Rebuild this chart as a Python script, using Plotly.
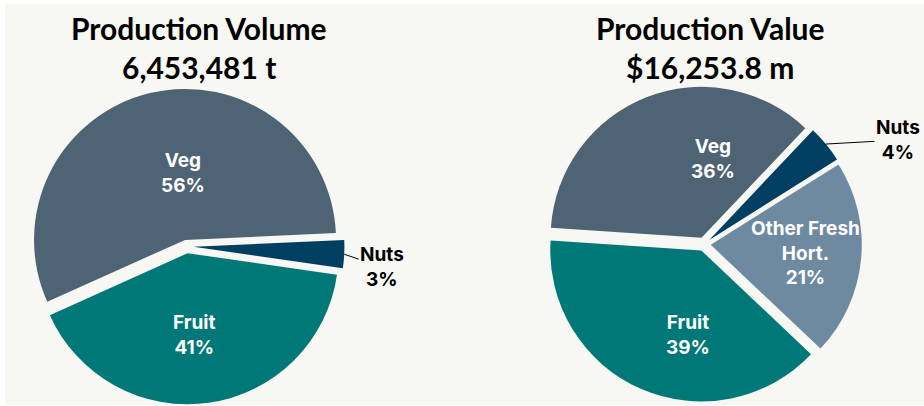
import math
import plotly.graph_objects as go

# ---- data ----
vol_labels = ["Nuts", "Fruit", "Veg"]
vol_text = ["Nuts", "Fruit", "Veg"]
vol_share = [3, 41, 56]
vol_colors = ["#003f62", "#007877", "#4e6475"]

val_labels = ["Veg", "Nuts", "Other Fresh Hort.", "Fruit"]
val_text = ["Veg", "Nuts", "Other Fresh<br>Hort.", "Fruit"]
val_share = [36, 4, 21, 39]
val_colors = ["#4e6475", "#003f62", "#6e8aa0", "#007877"]

vol_title = "Production Volume"
vol_total = "6,453,481 t"
val_title = "Production Value"
val_total = "$16,253.8 m"

# ---- style ----
BG = "#f7f7f3"
LABEL_FONT = "Inter"
TITLE_FONT = "Lato"
PULL = 0.045
W, H = 924, 406

vol_dom = dict(x=[0.03117, 0.37273], y=[0.0042, 0.7815])
val_dom = dict(x=[0.59113, 0.93268], y=[0.00985, 0.7872])
vol_rot = 87.4
val_rot = -86.2

# label placement: (angle shift from slice mid-angle in deg, radius fraction)
vol_lab_style = [None, (-3.5, 0.54), (-11.7, 0.44)]
val_lab_style = [(-30.0, 0.53), None, (0.4, 0.63), (14.6, 0.57)]


def pie_geom(dom):
    cx = W * (dom["x"][0] + dom["x"][1]) / 2
    cy = H * (1 - (dom["y"][0] + dom["y"][1]) / 2)
    r = min(W * (dom["x"][1] - dom["x"][0]), H * (dom["y"][1] - dom["y"][0])) / 2 / (1 + PULL)
    return cx, cy, r


def mid_angle(values, idx, rotation):
    tot = sum(values)
    start = 90 - rotation
    before = sum(values[:idx])
    return start - 360 * (before + values[idx] / 2) / tot


def to_paper(px, py):
    return px / W, 1 - py / H


fig = go.Figure()

for labels, values, colors, dom, rot in [
    (vol_labels, vol_share, vol_colors, vol_dom, vol_rot),
    (val_labels, val_share, val_colors, val_dom, val_rot),
]:
    fig.add_trace(go.Pie(
        labels=labels, values=values,
        sort=False, direction="clockwise", rotation=rot,
        pull=[PULL] * len(values),
        marker=dict(colors=colors, line=dict(width=0)),
        textinfo="none",
        domain=dom,
        showlegend=False, hoverinfo="label+percent",
    ))

title_font = dict(family=TITLE_FONT, size=30, color="black", weight=700)
annots = [
    dict(text=vol_title, x=198.5 / W, y=1 - 28 / H),
    dict(text=vol_total, x=198.5 / W, y=1 - 67 / H),
    dict(text=val_title, x=710 / W, y=1 - 28 / H),
    dict(text=val_total, x=710 / W, y=1 - 67 / H),
]
for a in annots:
    a.update(xref="paper", yref="paper", showarrow=False, font=title_font,
             xanchor="center", yanchor="middle")

inside_font = dict(family=LABEL_FONT, size=19, color="white", weight=700)
nut_font = dict(family=LABEL_FONT, size=19, color="black", weight=700)

for texts, values, dom, rot, styles, nut_off in [
    (vol_text, vol_share, vol_dom, vol_rot, vol_lab_style, (38, 13)),
    (val_text, val_share, val_dom, val_rot, val_lab_style, (72, -4)),
]:
    cx, cy, r = pie_geom(dom)
    tot = sum(values)
    for i, (t, v) in enumerate(zip(texts, values)):
        m = mid_angle(values, i, rot)
        label = f"{t}<br>{v / tot:.0%}"
        if styles[i] is None:
            # small slice: outside label with leader line
            a = math.radians(m)
            px = cx + r * (1 + PULL) * math.cos(a)
            py = cy - r * (1 + PULL) * math.sin(a)
            x, y = to_paper(px, py)
            annots.append(dict(x=x, y=y, xref="paper", yref="paper", text=label,
                               showarrow=True, arrowhead=0, arrowwidth=1,
                               arrowcolor="black", ax=nut_off[0], ay=nut_off[1],
                               font=nut_font, standoff=0, startstandoff=0))
        else:
            shift, frac = styles[i]
            a = math.radians(m)
            vx = cx + r * PULL * math.cos(a)
            vy = cy - r * PULL * math.sin(a)
            b = math.radians(m + shift)
            px = vx + frac * r * math.cos(b)
            py = vy - frac * r * math.sin(b)
            x, y = to_paper(px, py)
            annots.append(dict(x=x, y=y, xref="paper", yref="paper", text=label,
                               showarrow=False, font=inside_font,
                               xanchor="center", yanchor="middle"))

fig.update_layout(
    width=W, height=H,
    margin=dict(l=0, r=0, t=0, b=0, autoexpand=False),
    paper_bgcolor="white",
    plot_bgcolor=BG,
    annotations=annots,
    shapes=[dict(type="rect", xref="paper", yref="paper",
                 x0=5 / W, x1=1, y0=1 / H, y1=402 / H,
                 fillcolor=BG, line=dict(width=0), layer="below")],
)

fig.write_html("out.html", config={"displayModeBar": False},
               post_script="document.body.style.margin='0';")
